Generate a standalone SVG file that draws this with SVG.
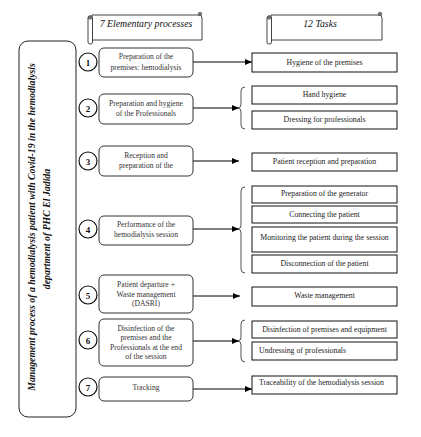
<svg xmlns="http://www.w3.org/2000/svg" width="421" height="437" viewBox="0 0 421 437">
<defs>
<marker id="ah" markerWidth="8" markerHeight="6" refX="7" refY="3" orient="auto" markerUnits="userSpaceOnUse">
<path d="M0,0 L7,3 L0,6 Z" fill="#000"/>
</marker>
<style>
.proc{fill:#fff;stroke:#333;stroke-width:1}
.task{fill:#fff;stroke:#111;stroke-width:1}
.num{fill:#fff;stroke:#111;stroke-width:1.2}
.nt{font-family:"Liberation Serif","Times New Roman",serif;font-size:9px;font-weight:bold;text-anchor:middle;fill:#111}
.pt{font-family:"Liberation Serif","Times New Roman",serif;font-size:7.6px;text-anchor:middle;fill:#333}
.tt{font-family:"Liberation Serif","Times New Roman",serif;font-size:7.8px;text-anchor:middle;fill:#222}
.tl{font-family:"Liberation Serif","Times New Roman",serif;font-size:7.8px;text-anchor:start;fill:#222}
.conn{fill:none;stroke:#000;stroke-width:1}
.brace{fill:none;stroke:#555;stroke-width:1}
.ban{fill:#fff;stroke:#444;stroke-width:1}
.bt{font-family:"Liberation Serif","Times New Roman",serif;font-size:9.8px;font-style:italic;text-anchor:middle;fill:#111}
.vt{font-family:"Liberation Serif","Times New Roman",serif;font-size:9.8px;font-style:italic;font-weight:bold;text-anchor:middle;fill:#111}
</style>
</defs>

<g id="banner-processes">
<path class="ban" d="M92,15 H199 Q202,15 202,18 V40 H92 Z"/>
<rect class="ban" x="88" y="16" width="4.5" height="28" rx="2"/>
<circle cx="90" cy="17.5" r="1.8" fill="#777" stroke="#444" stroke-width="0.6"/>
<circle cx="200" cy="14" r="1.8" fill="#777" stroke="#444" stroke-width="0.6"/>
<text class="bt" x="146" y="27">7 Elementary processes</text>
</g>

<g id="banner-tasks">
<path class="ban" d="M271,15 H379 Q382,15 382,18 V40 H271 Z"/>
<rect class="ban" x="267" y="16" width="4.5" height="28" rx="2"/>
<circle cx="269" cy="17.5" r="1.8" fill="#777" stroke="#444" stroke-width="0.6"/>
<circle cx="380" cy="14" r="1.8" fill="#777" stroke="#444" stroke-width="0.6"/>
<text class="bt" x="320" y="27">12 Tasks</text>
</g>

<g id="process-title">
<rect x="19" y="41" width="57" height="376" rx="9" fill="#fff" stroke="#222" stroke-width="1"/>
<text class="vt" transform="translate(35,227) rotate(-90)">Management process of a hemodialysis patient with Covid-19 in the hemodialysis</text>
<text class="vt" transform="translate(50,229) rotate(-90)">department of PHC El Jadida</text>
</g>

<g id="connectors">
<line class="conn" x1="193" y1="62" x2="252" y2="62" marker-end="url(#ah)"/>
<line class="conn" x1="193" y1="108" x2="239" y2="108" marker-end="url(#ah)"/>
<path class="brace" d="M245,87 Q241,87 241,91 V104 Q241,108 238,108 Q241,108 241,112 V125 Q241,129 245,129"/>
<line class="conn" x1="193" y1="161" x2="239" y2="161" marker-end="url(#ah)"/>
<line class="conn" x1="193" y1="229" x2="239" y2="229" marker-end="url(#ah)"/>
<path class="brace" d="M245,187 Q241,187 241,191 V225 Q241,229 238,229 Q241,229 241,233 V269 Q241,273 245,273"/>
<line class="conn" x1="193" y1="296" x2="240" y2="296" marker-end="url(#ah)"/>
<line class="conn" x1="193" y1="341" x2="239" y2="341" marker-end="url(#ah)"/>
<path class="brace" d="M245,320 Q241,320 241,324 V337 Q241,341 238,341 Q241,341 241,345 V358 Q241,362 245,362"/>
<line class="conn" x1="193" y1="389" x2="252" y2="389" marker-end="url(#ah)"/>
</g>

<g id="process-1">
<circle class="num" cx="88" cy="62" r="9"/><text class="nt" x="88" y="65.5">1</text>
<rect class="proc" x="99" y="48" width="94" height="29" rx="5"/>
<text class="pt" x="146" y="59">Preparation of the</text>
<text class="pt" x="146" y="70">premises: hemodialysis</text>
</g>
<g id="process-2">
<circle class="num" cx="88" cy="108" r="9"/><text class="nt" x="88" y="111.5">2</text>
<rect class="proc" x="99" y="94" width="94" height="30" rx="5"/>
<text class="pt" x="146" y="106">Preparation and hygiene</text>
<text class="pt" x="146" y="116">of the Professionals</text>
</g>
<g id="process-3">
<circle class="num" cx="88" cy="161" r="9"/><text class="nt" x="88" y="164.5">3</text>
<rect class="proc" x="99" y="146" width="94" height="30" rx="5"/>
<text class="pt" x="146" y="158">Reception and</text>
<text class="pt" x="146" y="168">preparation of the</text>
</g>
<g id="process-4">
<circle class="num" cx="88" cy="229" r="9"/><text class="nt" x="88" y="232.5">4</text>
<rect class="proc" x="99" y="216" width="94" height="29" rx="5"/>
<text class="pt" x="146" y="227">Performance of the</text>
<text class="pt" x="146" y="237">hemodialysis session</text>
</g>
<g id="process-5">
<circle class="num" cx="88" cy="295" r="9"/><text class="nt" x="88" y="298.5">5</text>
<rect class="proc" x="99" y="275" width="94" height="38" rx="5"/>
<text class="pt" x="146" y="287">Patient departure +</text>
<text class="pt" x="146" y="297">Waste management</text>
<text class="pt" x="146" y="306">(DASRI)</text>
</g>
<g id="process-6">
<circle class="num" cx="88" cy="340" r="9"/><text class="nt" x="88" y="343.5">6</text>
<rect class="proc" x="99" y="319" width="94" height="47" rx="5"/>
<text class="pt" x="146" y="331">Disinfection of the</text>
<text class="pt" x="146" y="340">premises and the</text>
<text class="pt" x="146" y="350">Professionals at the end</text>
<text class="pt" x="146" y="359">of the session</text>
</g>
<g id="process-7">
<circle class="num" cx="88" cy="387" r="9"/><text class="nt" x="88" y="390.5">7</text>
<rect class="proc" x="99" y="377" width="94" height="24" rx="5"/>
<text class="pt" x="146" y="390">Tracking</text>
</g>

<g id="task-1"><rect class="task" x="252" y="53" width="145" height="19"/><text class="tt" x="324.5" y="65">Hygiene of the premises</text></g>
<g id="task-2"><rect class="task" x="252" y="86" width="145" height="18"/><text class="tt" x="324.5" y="97">Hand hygiene</text></g>
<g id="task-3"><rect class="task" x="252" y="111" width="145" height="18"/><text class="tt" x="324.5" y="122">Dressing for professionals</text></g>
<g id="task-4"><rect class="task" x="252" y="153" width="145" height="18"/><text class="tt" x="324.5" y="164">Patient reception and preparation</text></g>
<g id="task-5"><rect class="task" x="252" y="186" width="145" height="17"/><text class="tt" x="324.5" y="196">Preparation of the generator</text></g>
<g id="task-6"><rect class="task" x="252" y="206" width="145" height="17"/><text class="tt" x="324.5" y="217">Connecting the patient</text></g>
<g id="task-7"><rect class="task" x="252" y="227" width="145" height="25"/><text class="tt" x="324.5" y="240">Monitoring the patient during the session</text></g>
<g id="task-8"><rect class="task" x="252" y="255" width="145" height="18"/><text class="tt" x="324.5" y="266">Disconnection of the patient</text></g>
<g id="task-9"><rect class="task" x="252" y="287" width="145" height="19"/><text class="tt" x="324.5" y="298">Waste management</text></g>
<g id="task-10"><rect class="task" x="252" y="321" width="145" height="17"/><text class="tt" x="324.5" y="332">Disinfection of premises and equipment</text></g>
<g id="task-11"><rect class="task" x="252" y="342" width="145" height="18"/><text class="tl" x="259" y="353">Undressing of professionals</text></g>
<g id="task-12"><rect class="task" x="252" y="376" width="145" height="18"/><text class="tl" x="259" y="385">Traceability of the hemodialysis session</text></g>
</svg>
